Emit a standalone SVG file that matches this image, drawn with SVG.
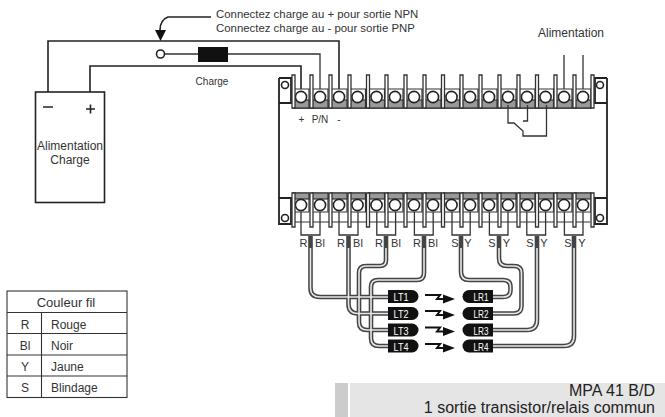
<svg xmlns="http://www.w3.org/2000/svg" width="665" height="417" viewBox="0 0 665 417">
<style>
text{font-family:"Liberation Sans",Arial,sans-serif;fill:#333}
.s{font-size:11px}
.m{font-size:12px}
.n{font-size:11.400px}
.c{text-anchor:middle}
.w{fill:none;stroke:#333;stroke-width:1.3}
.t{fill:none;stroke:#222;stroke-width:1.6}
.ko{fill:none;stroke:#444;stroke-width:4.6;stroke-linejoin:round}
.ki{fill:none;stroke:#e8e8e8;stroke-width:1.6;stroke-linejoin:round}
.pill{fill:#111}
.pt{font-size:11px;fill:#fff;text-anchor:middle}
.sep{fill:#fff;stroke:#333;stroke-width:1.3}
.tb{fill:#fff;stroke:#333;stroke-width:1.2}
.sc{fill:#fff;stroke:#222;stroke-width:1.6}
</style>
<defs>
<g id="tt"><path class="tb" d="M-8-8H8V11H-8Z"/><rect x="-8" y="3" width="16" height="8" fill="#999" stroke="#333" stroke-width="1.2"/><circle class="sc" cx="0" cy="0" r="5.6"/></g>
<g id="tbm"><path class="tb" d="M-8-12H8V7H-8Z"/><rect x="-8" y="-12" width="16" height="6" fill="#999" stroke="#333" stroke-width="1.2"/><circle class="sc" cx="0" cy="0" r="5.6"/></g>
<g id="arr"><path d="M0-2H15L12 2H19" fill="none" stroke="#111" stroke-width="2"/><path d="M18-2.500V6.500L30 2Z" fill="#111"/></g>
</defs>

<g id="connectors">
<path class="t" d="M48 92V41H339V97"/>
<path class="t" d="M90 92V66H301V97"/>
<path class="w" d="M165 54H198M228 54H320V97"/>
<path fill="none" stroke="#222" stroke-width="1.600" d="M211 17H168Q160 20 160 30"/>
<path d="M155 30H166L160.500 41Z" fill="#111"/>
<path class="w" d="M564 55V97M583 55V97"/>
<path class="w" d="M508 105V123H514L523 131V136H546.500V105"/>
<path class="w" d="M527.500 105V121H523"/>
<path class="w" d="M301 205V235H320V205M339 205V235H358V205M376.800 205V235H395.600V205M414.400 205V235H433.200V205M452 205V235H470.200V205M489.400 205V235H508V205M526.800 205V235H545.600V205M564.400 205V235H583V205"/>
<path class="ko" d="M310.500 236V288Q310.500 297 320 297H388"/>
<path class="ko" d="M348.500 236V304Q348.500 313.500 358 313.500H388"/>
<path class="ko" d="M386 236V260Q386 266 380 266H366Q359 266 359 273V322Q359 330 367 330H388"/>
<path class="ko" d="M424 236V273Q424 280 417 280H378Q371 280 371 287V338Q371 346 379 346H388"/>
<path class="ko" d="M461 236V272Q461 280 469 280H503Q510.500 280 510.500 287V290Q510.500 297 503 297H493"/>
<path class="ko" d="M499 236V258Q499 266 507 266H514Q521.500 266 521.500 273V306Q521.500 313.500 514 313.500H493"/>
<path class="ko" d="M537 236V320Q537 330 527 330H493"/>
<path class="ko" d="M574 236V336Q574 346 564 346H493"/>
<path class="ki" d="M310.500 248V288Q310.500 297 320 297H388"/>
<path class="ki" d="M348.500 248V304Q348.500 313.500 358 313.500H388"/>
<path class="ki" d="M386 248V260Q386 266 380 266H366Q359 266 359 273V322Q359 330 367 330H388"/>
<path class="ki" d="M424 248V273Q424 280 417 280H378Q371 280 371 287V338Q371 346 379 346H388"/>
<path class="ki" d="M461 248V272Q461 280 469 280H503Q510.500 280 510.500 287V290Q510.500 297 503 297H493"/>
<path class="ki" d="M499 248V258Q499 266 507 266H514Q521.500 266 521.500 273V306Q521.500 313.500 514 313.500H493"/>
<path class="ki" d="M537 248V320Q537 330 527 330H493"/>
<path class="ki" d="M574 248V336Q574 346 564 346H493"/>
</g>

<g id="battery">
<rect x="35.500" y="92" width="69" height="110.500" fill="#fff" stroke="#222" stroke-width="1.600"/>
<path d="M43 107H53M86 109H95M90.500 104.500V113.500" stroke="#222" stroke-width="1.600" fill="none"/>
<text class="m c" x="70" y="150">Alimentation</text>
<text class="m c" x="70" y="164">Charge</text>
</g>

<g id="load">
<circle cx="160.500" cy="54" r="4" fill="#fff" stroke="#222" stroke-width="1.600"/>
<rect x="198" y="47" width="30" height="15" fill="#111"/>
<text class="c" style="font-size:10px" x="212" y="85">Charge</text>
</g>

<g id="labels">
<text class="n" x="216" y="18">Connectez charge au + pour sortie NPN</text>
<text class="n" x="216" y="32">Connectez charge au - pour sortie PNP</text>
<text class="m c" x="571" y="37">Alimentation</text>
<text class="c" style="font-size:10px" x="301.500" y="123">+</text>
<text class="c" style="font-size:10px" x="320" y="123">P/N</text>
<text class="c" style="font-size:10px" x="339" y="123">-</text>
</g>

<g id="module">
<path d="M279 78V224H291V198H279M279 78H291V103H279M607 78H595V103H607M607 78V224H595V198H607" fill="#fff" stroke="#222" stroke-width="1.800"/>
<path d="M295 108H590M295 222H590" fill="none" stroke="#333" stroke-width="1"/>
<circle class="sc" cx="285" cy="85" r="3.500"/><circle class="sc" cx="600" cy="85" r="3.500"/><circle class="sc" cx="285" cy="218" r="3.500"/><circle class="sc" cx="600" cy="218" r="3.500"/>
<g id="top-terminals">
<use href="#tt" x="301" y="97"/><use href="#tt" x="320" y="97"/><use href="#tt" x="339" y="97"/><use href="#tt" x="357.500" y="97"/><use href="#tt" x="376.500" y="97"/><use href="#tt" x="395" y="97"/><use href="#tt" x="414" y="97"/><use href="#tt" x="433" y="97"/><use href="#tt" x="451.500" y="97"/><use href="#tt" x="470" y="97"/><use href="#tt" x="489" y="97"/><use href="#tt" x="508" y="97"/><use href="#tt" x="527" y="97"/><use href="#tt" x="545.500" y="97"/><use href="#tt" x="564" y="97"/><use href="#tt" x="583" y="97"/>
</g>
<g id="bottom-terminals">
<use href="#tbm" x="301" y="205"/><use href="#tbm" x="320" y="205"/><use href="#tbm" x="339" y="205"/><use href="#tbm" x="357.500" y="205"/><use href="#tbm" x="376.500" y="205"/><use href="#tbm" x="395" y="205"/><use href="#tbm" x="414" y="205"/><use href="#tbm" x="433" y="205"/><use href="#tbm" x="451.500" y="205"/><use href="#tbm" x="470" y="205"/><use href="#tbm" x="489" y="205"/><use href="#tbm" x="508" y="205"/><use href="#tbm" x="527" y="205"/><use href="#tbm" x="545.500" y="205"/><use href="#tbm" x="564" y="205"/><use href="#tbm" x="583" y="205"/>
</g>
<path class="sep" d="M292 75h3V108h-3ZM310 75h3V108h-3ZM329 75h3V108h-3ZM348 75h3V108h-3ZM366.500 75h3V108h-3ZM385 75h3V108h-3ZM404 75h3V108h-3ZM423 75h3V108h-3ZM441.500 75h3V108h-3ZM460 75h3V108h-3ZM479 75h3V108h-3ZM498 75h3V108h-3ZM517 75h3V108h-3ZM535.500 75h3V108h-3ZM554 75h3V108h-3ZM573 75h3V108h-3ZM591 75h3V108h-3Z"/>
<path class="sep" d="M292 193h3V227h-3ZM310 193h3V227h-3ZM329 193h3V227h-3ZM348 193h3V227h-3ZM366.500 193h3V227h-3ZM385 193h3V227h-3ZM404 193h3V227h-3ZM423 193h3V227h-3ZM441.500 193h3V227h-3ZM460 193h3V227h-3ZM479 193h3V227h-3ZM498 193h3V227h-3ZM517 193h3V227h-3ZM535.500 193h3V227h-3ZM554 193h3V227h-3ZM573 193h3V227h-3ZM591 193h3V227h-3Z"/>
<path class="w" d="M508 105V108M527.500 105V108M546.500 105V108"/>
</g>

<g id="wire-labels">
<text class="s c" x="303.500" y="247">R</text><text class="s c" x="320" y="247">Bl</text>
<text class="s c" x="341" y="247">R</text><text class="s c" x="358" y="247">Bl</text>
<text class="s c" x="379" y="247">R</text><text class="s c" x="396" y="247">Bl</text>
<text class="s c" x="417" y="247">R</text><text class="s c" x="433" y="247">Bl</text>
<text class="s c" x="455" y="247">S</text><text class="s c" x="468" y="247">Y</text>
<text class="s c" x="492" y="247">S</text><text class="s c" x="506.500" y="247">Y</text>
<text class="s c" x="530" y="247">S</text><text class="s c" x="544" y="247">Y</text>
<text class="s c" x="568" y="247">S</text><text class="s c" x="582" y="247">Y</text>
</g>

<g id="LT1"><path class="pill" d="M388 290H412A6.500 6.500 0 0 1 412 303H388Z"/><text class="pt" x="401" y="301" textLength="15" lengthAdjust="spacingAndGlyphs">LT1</text></g>
<g id="LT2"><path class="pill" d="M388 307H412A6.500 6.500 0 0 1 412 320H388Z"/><text class="pt" x="401" y="318" textLength="15" lengthAdjust="spacingAndGlyphs">LT2</text></g>
<g id="LT3"><path class="pill" d="M388 323.500H412A6.500 6.500 0 0 1 412 336.500H388Z"/><text class="pt" x="401" y="334.500" textLength="15" lengthAdjust="spacingAndGlyphs">LT3</text></g>
<g id="LT4"><path class="pill" d="M388 339.500H412A6.500 6.500 0 0 1 412 352.500H388Z"/><text class="pt" x="401" y="350.500" textLength="15" lengthAdjust="spacingAndGlyphs">LT4</text></g>
<g id="LR1"><path class="pill" d="M493 290H469A6.500 6.500 0 0 0 469 303H493Z"/><text class="pt" x="481" y="301" textLength="15" lengthAdjust="spacingAndGlyphs">LR1</text></g>
<g id="LR2"><path class="pill" d="M493 307H469A6.500 6.500 0 0 0 469 320H493Z"/><text class="pt" x="481" y="318" textLength="15" lengthAdjust="spacingAndGlyphs">LR2</text></g>
<g id="LR3"><path class="pill" d="M493 323.500H469A6.500 6.500 0 0 0 469 336.500H493Z"/><text class="pt" x="481" y="334.500" textLength="15" lengthAdjust="spacingAndGlyphs">LR3</text></g>
<g id="LR4"><path class="pill" d="M493 339.500H469A6.500 6.500 0 0 0 469 352.500H493Z"/><text class="pt" x="481" y="350.500" textLength="15" lengthAdjust="spacingAndGlyphs">LR4</text></g>

<g id="beams">
<use href="#arr" x="425" y="297"/><use href="#arr" x="425" y="313"/><use href="#arr" x="425" y="329.500"/><use href="#arr" x="425" y="346"/>
</g>

<g id="legend">
<rect x="7" y="291" width="120" height="106.500" fill="none" stroke="#333" stroke-width="1.100"/>
<path d="M7 312.500H127M7 333.500H127M7 355H127M7 376H127M41.500 312.500V397.500" fill="none" stroke="#333" stroke-width="1.100"/>
<text class="c" x="66" y="307" style="font-size:13px">Couleur fil</text>
<text class="m c" x="25" y="329">R</text><text class="m" x="51" y="329">Rouge</text>
<text class="m c" x="25" y="350">Bl</text><text class="m" x="51" y="350">Noir</text>
<text class="m c" x="25" y="371">Y</text><text class="m" x="51" y="371">Jaune</text>
<text class="m c" x="25" y="392">S</text><text class="m" x="51" y="392">Blindage</text>
</g>

<g id="title">
<rect x="335" y="383" width="13" height="34" fill="#ccc"/>
<rect x="350" y="383" width="315" height="34" fill="#e5e5e5"/>
<text x="655" y="396" text-anchor="end" style="font-size:16px;fill:#222">MPA 41 B/D</text>
<text x="655" y="413" text-anchor="end" style="font-size:16px;fill:#222">1 sortie transistor/relais commun</text>
</g>
</svg>
